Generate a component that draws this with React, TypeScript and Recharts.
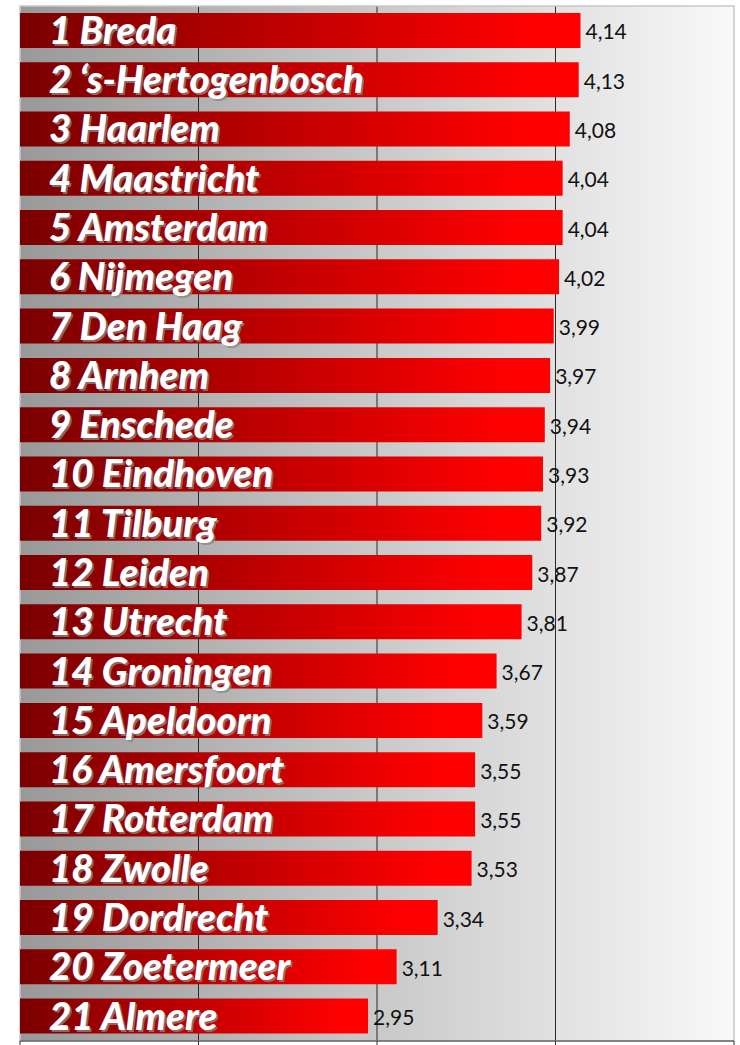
import React from 'react';
import { BarChart, Bar, XAxis, YAxis, CartesianGrid, LabelList, ReferenceArea } from 'recharts';

const cities = [
  'Breda', '\u2018s-Hertogenbosch', 'Haarlem', 'Maastricht', 'Amsterdam', 'Nijmegen', 'Den Haag',
  'Arnhem', 'Enschede', 'Eindhoven', 'Tilburg', 'Leiden', 'Utrecht', 'Groningen', 'Apeldoorn',
  'Amersfoort', 'Rotterdam', 'Zwolle', 'Dordrecht', 'Zoetermeer', 'Almere',
];
const scores = [
  4.14, 4.13, 4.08, 4.04, 4.04, 4.02, 3.99, 3.97, 3.94, 3.93, 3.92, 3.87, 3.81, 3.67, 3.59,
  3.55, 3.55, 3.53, 3.34, 3.11, 2.95,
];
const axisTicks = [1, 2, 3, 4, 5];
const gridValues = [2, 3, 4];

const data = cities.map((c, i) => ({ name: `${i + 1} ${c}`, value: scores[i] }));

const NAME_FONT = 38.5;

const NameLabel = (props: any) => {
  const { x, y, height, value } = props;
  const ty = Number(y) + Number(height) / 2 + NAME_FONT * 0.35;
  const tx = Number(x) + 29;
  const common = {
    fontFamily: 'Lato, sans-serif',
    fontWeight: 900,
    fontStyle: 'italic' as const,
    fontSize: NAME_FONT,
  };
  return (
    <g>
      <text x={tx + 2} y={ty + 2} fill="#8a8a8a" fillOpacity={0.75} {...common}>{value}</text>
      <text x={tx} y={ty} fill="#ffffff" {...common}>{value}</text>
    </g>
  );
};

const ValueLabel = (props: any) => {
  const { x, y, width, height, value } = props;
  return (
    <text
      x={Number(x) + Number(width) + 5}
      y={Number(y) + Number(height) / 2 + 9}
      fill="#111"
      fontFamily="Lato, sans-serif"
      fontSize={21}
    >
      {String(value.toFixed(2)).replace('.', ',')}
    </text>
  );
};

export default function App() {
  return (
    <div style={{ position: 'absolute', left: 0, top: 0, width: 740, height: 1045, background: '#fff' }}>
      <BarChart
        width={740}
        height={1045}
        layout="vertical"
        data={data}
        margin={{ top: 6, right: 6, bottom: 0, left: 20 }}
        barCategoryGap="14%"
      >
        <defs>
          <linearGradient id="bgGrad" x1="0" y1="0" x2="1" y2="0">
            <stop offset="0" stopColor="#999999" />
            <stop offset="1" stopColor="#f9f9f9" />
          </linearGradient>
          <linearGradient id="barGrad" x1="0" y1="0" x2="1" y2="0">
            <stop offset="0" stopColor="#7a0000" />
            <stop offset="0.92" stopColor="#ff0000" />
            <stop offset="1" stopColor="#ff0000" />
          </linearGradient>
        </defs>
        <CartesianGrid
          horizontal={false}
          vertical={true}
          verticalValues={gridValues}
          stroke="#2a2a2a"
          strokeWidth={1}
          fill="url(#bgGrad)"
          fillOpacity={1}
        />
        <ReferenceArea x1={1} x2={5} fill="none" stroke="#c8c8c8" strokeWidth={1.5} ifOverflow="visible" />
        <XAxis
          type="number"
          domain={[1, 5]}
          ticks={axisTicks}
          allowDataOverflow
          tickFormatter={() => ''}
          tickSize={4}
          height={4}
          axisLine={{ stroke: '#333' }}
          tickLine={{ stroke: '#333' }}
        />
        <YAxis type="category" dataKey="name" hide />
        <Bar dataKey="value" fill="url(#barGrad)" isAnimationActive={false}>
          <LabelList dataKey="name" content={NameLabel} />
          <LabelList dataKey="value" content={ValueLabel} />
        </Bar>
      </BarChart>
    </div>
  );
}
